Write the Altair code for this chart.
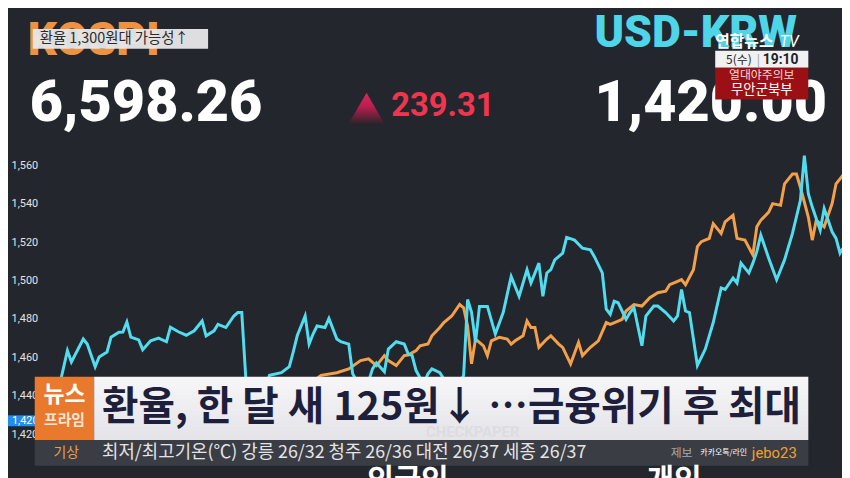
import altair as alt
import pandas as pd

# ---------------- data ----------------
cyan_day = [0, 3, 5, 6, 9, 10, 12, 13, 15, 16, 18, 19, 20, 21, 23, 24, 26, 28, 30, 31,
            33, 35, 37, 39, 40, 42, 43, 45, 47, 48, 49, 50, 52, 54, 56, 59, 61, 62, 63, 65,
            66, 67, 68, 70, 71, 73, 74, 76, 77, 80, 82, 83, 85, 86, 88, 90, 91, 92, 93, 94,
            95, 96, 97, 99, 100, 101, 103, 105, 106, 107, 108, 109, 111, 113, 115, 117, 119, 121, 122, 124,
            125, 126, 127, 128, 130, 131, 133, 135, 137, 138, 140, 141, 142, 143, 144, 146, 147, 148, 150, 151,
            153, 154, 156, 158, 159, 160, 161, 162, 164, 166, 168, 170, 171, 173, 174, 175, 177, 178, 179, 180,
            182, 184, 186, 188, 190, 191, 192, 193, 195, 196, 198, 199, 200, 201]
cyan_val = [1430.0, 1445.7, 1463.8, 1457.9, 1469.8, 1467.2, 1455.4, 1460.5, 1463.1, 1470.8,
            1473.4, 1473.5, 1478.7, 1470.8, 1469.4, 1464.3, 1468.9, 1470.3, 1468.4, 1476.0,
            1473.6, 1471.8, 1474.1, 1479.2, 1471.5, 1474.1, 1477.5, 1475.8, 1481.8, 1483.6,
            1483.6, 1450.2, 1440.0, 1438.0, 1450.9, 1452.3, 1455.4, 1463.1, 1471.5, 1481.8,
            1467.2, 1472.4, 1476.6, 1475.8, 1480.5, 1469.8, 1468.4, 1467.2, 1451.7, 1441.0,
            1454.3, 1457.4, 1452.8, 1464.6, 1468.4, 1467.2, 1462.1, 1461.2, 1453.4, 1449.7,
            1447.0, 1451.7, 1454.3, 1452.3, 1449.0, 1444.0, 1443.0, 1450.9, 1490.4, 1483.7,
            1468.2, 1486.8, 1486.8, 1472.4, 1483.7, 1502.4, 1492.1, 1505.9, 1499.0, 1509.3,
            1492.1, 1504.2, 1505.9, 1511.0, 1514.5, 1522.7, 1521.3, 1517.1, 1516.2, 1512.7,
            1504.2, 1485.3, 1482.7, 1489.5, 1488.7, 1480.1, 1483.6, 1486.1, 1466.3, 1481.8,
            1487.0, 1487.0, 1483.6, 1479.2, 1481.8, 1495.6, 1484.4, 1483.6, 1456.0, 1464.6,
            1478.4, 1496.4, 1495.6, 1501.6, 1499.0, 1509.3, 1504.2, 1509.3, 1515.3, 1523.9,
            1511.9, 1500.7, 1511.0, 1524.8, 1542.0, 1565.2, 1545.4, 1538.5, 1526.5, 1537.7,
            1525.6, 1522.2, 1514.5, 1517.9]

orange_day = [62, 69, 73, 76, 79, 81, 83, 85, 86, 88, 90, 91, 93, 94, 96, 97, 99, 100, 102, 104,
              105, 106, 107, 108, 110, 111, 112, 114, 116, 117, 118, 120, 121, 122, 123, 124, 126, 127, 129, 130,
              132, 134, 135, 137, 139, 141, 142, 144, 145, 146, 148, 150, 152, 154, 156, 157, 159, 160, 161, 163,
              164, 165, 167, 168, 170, 171, 173, 174, 176, 178, 179, 180, 182, 183, 185, 186, 188, 189, 190, 192,
              193, 194, 195, 196, 198, 199, 201]
orange_val = [1440.0, 1450.9, 1452.3, 1454.3, 1458.6, 1459.5, 1456.0, 1461.2, 1458.6, 1456.0,
              1461.2, 1461.5, 1463.8, 1466.3, 1467.2, 1471.5, 1475.8, 1478.4, 1481.8, 1487.8,
              1486.1, 1476.6, 1456.9, 1469.8, 1466.3, 1461.2, 1468.9, 1470.7, 1469.8, 1467.2,
              1468.9, 1471.5, 1479.2, 1475.8, 1475.8, 1465.5, 1469.8, 1471.5, 1467.2, 1465.5,
              1456.9, 1468.1, 1461.2, 1465.5, 1468.9, 1478.4, 1477.5, 1479.2, 1480.1, 1484.4,
              1487.8, 1487.0, 1491.3, 1493.9, 1494.7, 1498.1, 1499.8, 1500.7, 1498.1, 1505.9,
              1517.9, 1520.5, 1522.2, 1529.9, 1524.8, 1530.8, 1534.2, 1522.2, 1521.3, 1513.6,
              1528.2, 1531.6, 1535.9, 1540.3, 1539.4, 1550.6, 1555.7, 1555.7, 1548.8, 1533.3,
              1521.3, 1531.6, 1530.0, 1528.2, 1540.3, 1550.6, 1555.7]

y_ticks = [1420, 1440, 1460, 1480, 1500, 1520, 1540, 1560]

kospi_title = "KOSPI"
kospi_value = "6,598.26"
kospi_change = "239.31"
fx_title = "USD-KRW"
fx_value = "1,420.00"
current_tag = "1,420"
tag_text = "환율 1,300원대 가능성↑"
headline = "환율, 한 달 새 125원↓ …금융위기 후 최대"
weather = "최저/최고기온(℃) 강릉 26/32 청주 26/36 대전 26/37 세종 26/37"

KR = "Noto Sans CJK KR"
NUM = "Roboto"

xs = alt.Scale(domain=[-10, 200.5], nice=False, zero=False)
ys = alt.Scale(domain=[1398.66, 1640.93], nice=False, zero=False)

cyan_df = pd.DataFrame({"day": cyan_day, "rate": cyan_val})
orange_df = pd.DataFrame({"day": orange_day, "rate": orange_val})
tick_df = pd.DataFrame({"rate": y_ticks})
one = pd.DataFrame({"k": [0]})


def box(x, x2, y, y2, color, opacity=1.0):
    return alt.Chart(one).mark_rect(color=color, opacity=opacity).encode(
        x=alt.value(x), x2=alt.value(x2), y=alt.value(y), y2=alt.value(y2))


def txt(s, x, y, size, color, weight="normal", font=KR, align="left",
        baseline="middle", **kw):
    return alt.Chart(one).mark_text(text=s, fontSize=size, color=color,
                                    fontWeight=weight, font=font, align=align,
                                    baseline=baseline, **kw).encode(
        x=alt.value(x), y=alt.value(y))


def vgrad(c1, c2):
    return alt.Gradient(gradient="linear", x1=0, x2=0, y1=0, y2=1,
                        stops=[alt.GradientStop(color=c1, offset=0),
                               alt.GradientStop(color=c2, offset=1)])


orange_line = alt.Chart(orange_df).mark_line(
    color="#f4a04a", strokeWidth=3, clip=True).encode(
    x=alt.X("day:Q", scale=xs, axis=None),
    y=alt.Y("rate:Q", scale=ys, axis=None))
cyan_line = alt.Chart(cyan_df).mark_line(
    color="#52dcef", strokeWidth=3, clip=True).encode(
    x=alt.X("day:Q", scale=xs, axis=None),
    y=alt.Y("rate:Q", scale=ys, axis=None))

tick_labels = alt.Chart(tick_df).mark_text(
    align="center", baseline="middle", fontSize=11, color="#e4e4e4", font=NUM).encode(
    x=alt.value(17),
    y=alt.Y("rate:Q", scale=ys, axis=None),
    text=alt.Text("rate:Q", format=","))

triangle = alt.Chart(one).mark_point(
    shape="triangle-up", filled=True, size=1300, opacity=1,
    color=alt.Gradient(gradient="linear", x1=0, x2=0, y1=0, y2=1,
                       stops=[alt.GradientStop(color="#dc2660", offset=0),
                              alt.GradientStop(color="#b81e50", offset=0.45),
                              alt.GradientStop(color="#2c2429", offset=1)])).encode(
    x=alt.value(362), y=alt.value(99))

layers = [
    orange_line,
    cyan_line,
    tick_labels,
    # header
    txt(kospi_title, 20, 45, 46, "#ef9240", weight=900, font=NUM, baseline="alphabetic"),
    box(25, 202, 19, 39, "#e6e6e8", 0.96),
    txt(tag_text, 32, 29.5, 14.5, "#2a2a2a"),
    txt(kospi_value, 22, 112, 58, "#ffffff", weight=900, font=NUM, baseline="alphabetic"),
    triangle,
    txt(kospi_change, 387, 107, 33, "#f0364f", weight="bold", font=NUM, baseline="alphabetic"),
    txt(fx_title, 592, 37, 45, "#4fd5e8", weight=900, font=NUM, baseline="alphabetic"),
    txt(fx_value, 592, 112, 58, "#ffffff", weight=900, font=NUM, baseline="alphabetic"),
    txt("연합뉴스", 714, 37, 16, "#ffffff", weight="bold", baseline="alphabetic"),
    txt("TV", 779, 37, 16, "#ffffff", font=NUM, fontStyle="italic", baseline="alphabetic"),
    box(714, 808, 41, 58, "#f1f1f1"),
    txt("5(수)", 725, 50, 12, "#222222"),
    txt("|", 756, 50, 12, "#9a9a9a"),
    txt("19:10", 762, 50, 14, "#222222", weight="bold", font=NUM),
    box(714, 808, 58, 90, "#9b1014"),
    txt("열대야주의보", 761, 65, 12, "#f6d9d9", align="center"),
    txt("무안군북부", 761, 81, 13.5, "#ffffff", align="center"),
    # current value tag
    box(0, 30, 409, 420, "#1f8ef0"),
    txt(current_tag, 4, 414.5, 11, "#ffffff", font=NUM),
    # lower third banner
    box(27, 87, 370, 434, "#e8792d"),
    txt("뉴스", 57, 389, 23, "#ffffff", weight="bold", align="center"),
    txt("프라임", 57, 414, 15, "#fde6d6", weight="bold", align="center"),
    alt.Chart(one).mark_rect(color=vgrad("#f7f7f9", "#e3e3e8")).encode(
        x=alt.value(87), x2=alt.value(808), y=alt.value(370), y2=alt.value(434)),
    txt("CHECKPAPER", 422, 426, 15, "#dcdce1", weight="bold", font=NUM),
    txt(headline, 95, 402, 40, "#1d1f3b", weight="bold"),
    # ticker
    box(27, 808, 434, 460, "#3b3e46", 0.96),
    txt("기상", 46, 447, 14, "#e8a040"),
    txt(weather, 95, 447, 18, "#e4e4e4"),
    txt("제보", 669, 447, 12, "#a8a8a8"),
    txt("카카오톡/라인", 699, 447, 8, "#ffffff"),
    txt("jebo23", 751, 447, 15, "#f0a030", font=NUM),
    # cut-off labels at the bottom edge
    txt("외국인", 362, 484, 30, "#ffffff", weight="bold", baseline="alphabetic"),
    txt("개인", 645, 484, 30, "#ffffff", weight="bold", baseline="alphabetic"),
]

chart = alt.layer(*layers).properties(
    width=842, height=470,
    autosize=alt.AutoSizeParams(type="none"),
    padding=0,
).configure(background="#23262c").configure_view(strokeWidth=0)

chart.save("out.html", embed_options={"renderer": "svg", "actions": False})
